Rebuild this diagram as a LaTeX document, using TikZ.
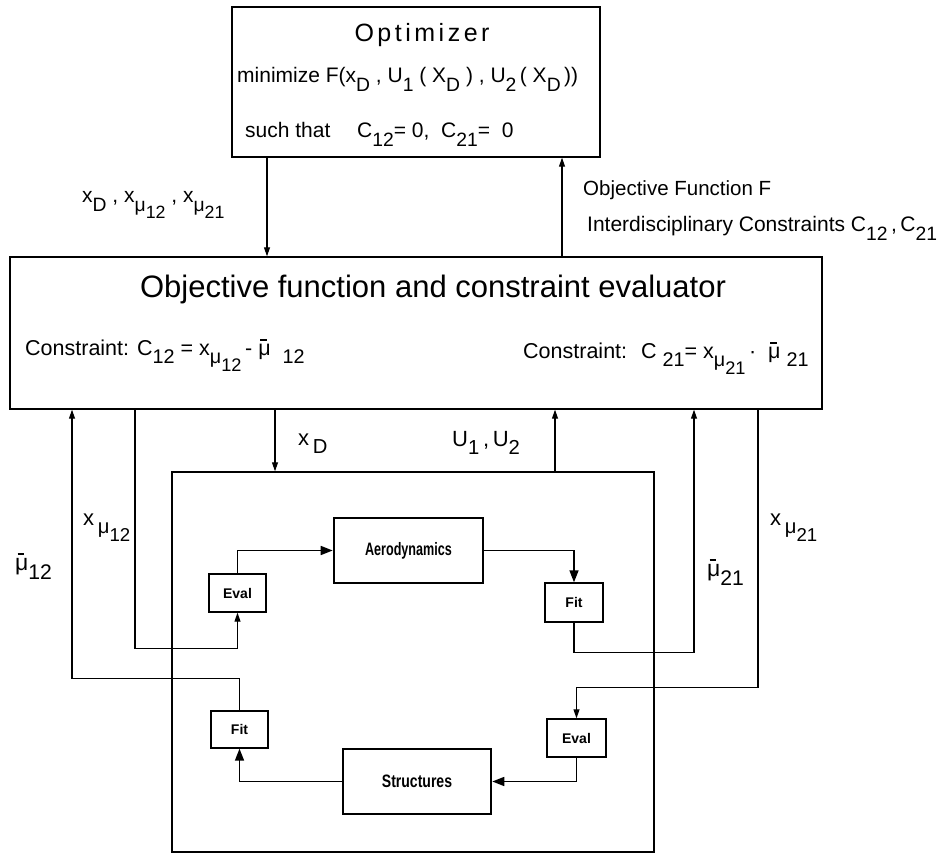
\documentclass[tikz,border=0pt]{standalone}
\usepackage{fontspec}
\setmainfont{Liberation Sans}
\usetikzlibrary{arrows.meta,positioning,calc}
\newcommand{\lo}[1]{\raisebox{-0.75ex}{\scalebox{0.92}{#1}}}
\newcommand{\mubar}{\makebox[0pt][l]{\hspace{0.1em}\rule[0.66em]{0.3em}{0.1em}}μ}

\begin{document}
\begin{tikzpicture}[x=1pt,y=-1pt,
    box/.style={draw, line width=1.4pt, inner sep=0pt},
    module/.style={draw, line width=2.6pt, inner sep=0pt, font=\fontsize{18}{18}\selectfont\bfseries},
    small/.style={draw, line width=1.4pt, inner sep=0pt, font=\fontsize{14}{14}\selectfont\bfseries},
    arrow/.style={-{Triangle[length=9pt,width=6pt]}, line width=1.1pt},
    bigarrow/.style={-{Triangle[length=12pt,width=9pt]}, line width=1.6pt},
    label/.style={font=\fontsize{21}{22}\selectfont, inner sep=0pt, anchor=base west}
  ]
  \useasboundingbox (0,0) rectangle (949,858);

  % Optimizer (top)
  \node[box, minimum width=368pt, minimum height=150pt] (opt) at (416,82) {};
  \node[label, anchor=base, font=\fontsize{25}{25}\selectfont\addfontfeature{LetterSpace=14}] (opttitle) at (422,42) {Optimizer};
  \node[label] (optmin) at (237,83) {minimize F(x\lo{D}\ ,\ U\lo{1}\ (\ X\lo{D}\ ) ,\ U\lo{2}\,(\ X\lo{D}\,))};
  \node[label] (optsuch) at (245,138) {such that \quad C\lo{12}= 0, \ C\lo{21}= \ 0};

  % Evaluator (middle)
  \node[box, minimum width=812pt, minimum height=152pt] (evalr) at (416,333) {};
  \node[label, anchor=base, font=\fontsize{31}{31}\selectfont] (evaltitle) at (433,297) {Objective function and constraint evaluator};
  \node[label, font=\fontsize{21.5}{22}\selectfont] (con12) at (25,355) {Constraint: C\lo{12} = x\lo{μ\lo{12}}\,-\ \mubar\ \ \lo{12}};
  \node[label, font=\fontsize{21.5}{22}\selectfont] (con21) at (523,358) {Constraint: \ C\ \lo{21}= x\lo{μ\lo{21}}\,·\ \ \mubar\;\lo{21}};

  % Analysis loop (bottom)
  \node[box, minimum width=482pt, minimum height=380pt] (loop) at (413,662) {};
  \node[module, minimum width=149pt, minimum height=65pt] (aero) at (408.5,550.5) {\scalebox{0.7}[1]{Aerodynamics}};
  \node[module, minimum width=148pt, minimum height=65pt] (struct) at (417,781.5) {\scalebox{0.78}[1]{Structures}};
  \node[small, minimum width=57pt, minimum height=38pt] (eval1) at (237.5,593) {Eval};
  \node[small, minimum width=58pt, minimum height=39pt] (fit1) at (574,602.5) {Fit};
  \node[small, minimum width=57pt, minimum height=37pt] (fit2) at (239.5,729.5) {Fit};
  \node[small, minimum width=59pt, minimum height=38pt] (eval2) at (576.5,738) {Eval};

  % Line positions
  \coordinate (cdown) at (267,0);
  \coordinate (cup) at (562,0);
  \coordinate (cmb12) at (72,0);
  \coordinate (cxm12) at (135,0);
  \coordinate (cxd) at (275,0);
  \coordinate (cu) at (555,0);
  \coordinate (cmb21) at (694,0);
  \coordinate (cxm21) at (758,0);

  % Optimizer <-> evaluator
  \draw[arrow] (opt.south -| cdown) -- (evalr.north -| cdown);
  \draw[arrow] (evalr.north -| cup) -- (opt.south -| cup);
  \node[label] (lblvars) at (82,203) {x\lo{D}\ ,\ x\lo{μ\lo{12}}\ ,\ x\lo{μ\lo{21}}};
  \node[label, font=\fontsize{20.5}{21}\selectfont] (lblobj) at (583,196) {Objective Function F};
  \node[label, font=\fontsize{21}{21}\selectfont] (lblcon) at (587,232) {Interdisciplinary Constraints C\lo{12}\,,\,C\lo{21}};

  % Evaluator <-> loop
  \draw[arrow] (evalr.south -| cxd) -- (loop.north -| cxd);
  \draw[arrow] (loop.north -| cu) -- (evalr.south -| cu);
  \draw[arrow] (evalr.south -| cxm12) -- ++(0,239) -| (eval1.south);
  \draw[arrow] (fit2.north) -- ++(0,-32) -| (evalr.south -| cmb12);
  \draw[arrow] (fit1.south) -- ++(0,30) -| (evalr.south -| cmb21);
  \draw[arrow] (evalr.south -| cxm21) -- ++(0,278) -| (eval2.north);
  \node[label, font=\fontsize{22}{22}\selectfont] (lblxd) at (298,445) {x\,\lo{D}};
  \node[label, font=\fontsize{22}{22}\selectfont] (lblu) at (452,446) {U\lo{1}\,,\,U\lo{2}};
  \node[label, font=\fontsize{22}{22}\selectfont] (lblxm12) at (83,525) {x\,\lo{μ\lo{12}}};
  \node[label, font=\fontsize{23}{23}\selectfont] (lblmb12) at (15,570) {\mubar\lo{12}};
  \node[label, font=\fontsize{23}{23}\selectfont] (lblmb21) at (707,576) {\mubar\lo{21}};
  \node[label, font=\fontsize{22}{22}\selectfont] (lblxm21) at (770,525) {x\,\lo{μ\lo{21}}};

  % Inside the loop
  \draw[bigarrow] (eval1.north) |- (aero.west);
  \draw[bigarrow] (aero.east) -| (fit1.north);
  \draw[bigarrow] (eval2.south) |- (struct.east);
  \draw[bigarrow] (struct.west) -| (fit2.south);
\end{tikzpicture}
\end{document}
